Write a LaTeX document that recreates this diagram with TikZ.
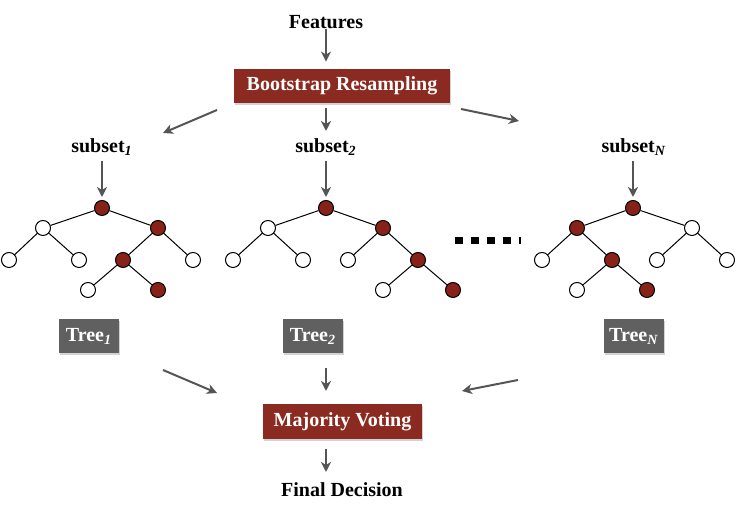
\documentclass[tikz,border=0pt]{standalone}
\usepackage{fontspec}
\setmainfont{Liberation Serif}
\usetikzlibrary{arrows.meta}
\usetikzlibrary{shadows}
\definecolor{boxred}{RGB}{139,42,32}
\definecolor{nodered}{RGB}{136,34,24}
\definecolor{boxgray}{RGB}{96,96,96}
\definecolor{arrgray}{RGB}{85,85,85}
\tikzset{
	lbl/.style={font=\bfseries, inner sep=0pt},
	redbox/.style={fill=boxred, text=white, font=\bfseries, inner sep=0pt,
		drop shadow={opacity=0.35, shadow xshift=0.6pt, shadow yshift=-0.9pt}},
	graybox/.style={fill=boxgray, text=white, font=\bfseries, inner sep=0pt,
		minimum width=30pt, minimum height=17pt,
		drop shadow={opacity=0.35, shadow xshift=0.6pt, shadow yshift=-0.9pt}},
	arr/.style={draw=arrgray, line width=1pt, -{Stealth[length=5pt, width=5pt, inset=1.5pt]}},
	leaf/.style={circle, draw=black, fill=white, line width=0.5pt, minimum size=7.5pt, inner sep=0pt},
	hit/.style={leaf, fill=nodered},
	branch/.style={line width=0.5pt}
}
\begin{document}
\begin{tikzpicture}[x=0.5pt, y=-0.5pt]
	\useasboundingbox (0,0) rectangle (735,512);
	% top part
	\node[lbl] (feat) at (326,22) {Features};
	\node[redbox, minimum width=108pt, minimum height=17pt] (boot) at (342,86) {Bootstrap Resampling};
	\node[lbl] (sub1) at (102,147) {subset\textsubscript{\textit{1}}};
	\node[lbl] (sub2) at (326,147) {subset\textsubscript{\textit{2}}};
	\node[lbl] (subN) at (634,147) {subset\textsubscript{\textit{N}}};
	\coordinate (bl0) at (217,110); \coordinate (bl1) at (163,133);
	\coordinate (bm0) at (326,108); \coordinate (bm1) at (326,131);
	\coordinate (br0) at (461,109); \coordinate (br1) at (519,121);
	\draw[arr] (feat.south) -- (bm0 |- boot.north) [shorten >=3.5pt];
	\draw[arr] (bl0) -- (bl1);
	\draw[arr] (bm0) -- (bm1);
	\draw[arr] (br0) -- (br1);
	% tree 1
	\node[hit]  (p0) at (102,208) {};
	\node[leaf] (p1) at (43,228) {};
	\node[hit]  (p2) at (158,228) {};
	\node[leaf] (p3) at (9,260) {};
	\node[leaf] (p4) at (79,260) {};
	\node[hit]  (p5) at (123,260) {};
	\node[leaf] (p6) at (193,260) {};
	\node[leaf] (p7) at (88,290) {};
	\node[hit]  (p8) at (158,290) {};
	\foreach \u/\v in {p0/p1, p0/p2, p1/p3, p1/p4, p2/p5, p2/p6, p5/p7, p5/p8}
		\draw[branch] (\u) -- (\v);
	% tree 2
	\node[hit]  (q0) at (326,208) {};
	\node[leaf] (q1) at (268,228) {};
	\node[hit]  (q2) at (383,228) {};
	\node[leaf] (q3) at (233,260) {};
	\node[leaf] (q4) at (303,260) {};
	\node[leaf] (q5) at (348,260) {};
	\node[hit]  (q6) at (418,260) {};
	\node[leaf] (q7) at (383,290) {};
	\node[hit]  (q8) at (453,290) {};
	\foreach \u/\v in {q0/q1, q0/q2, q1/q3, q1/q4, q2/q5, q2/q6, q6/q7, q6/q8}
		\draw[branch] (\u) -- (\v);
	% tree N
	\node[hit]  (r0) at (633,208) {};
	\node[hit]  (r1) at (577,228) {};
	\node[leaf] (r2) at (692,228) {};
	\node[leaf] (r3) at (542,260) {};
	\node[hit]  (r4) at (612,260) {};
	\node[leaf] (r5) at (657,260) {};
	\node[leaf] (r6) at (727,260) {};
	\node[leaf] (r7) at (577,290) {};
	\node[hit]  (r8) at (647,290) {};
	\foreach \u/\v in {r0/r1, r0/r2, r1/r3, r1/r4, r2/r5, r2/r6, r4/r7, r4/r8}
		\draw[branch] (\u) -- (\v);
	\draw[line width=3.5pt, dash pattern=on 3.75pt off 4.25pt] (455,241) -- (521,241);
	\foreach \s/\t in {sub1/p0, sub2/q0, subN/r0}
		\draw[arr, shorten <=2.5pt, shorten >=1.5pt] (\s.south -| \t) -- (\t);
	% bottom part
	\node[graybox] (t1) at (89,336) {Tree\textsubscript{\textit{1}}};
	\node[graybox] (t2) at (313,336) {Tree\textsubscript{\textit{2}}};
	\node[graybox] (tN) at (634,336) {Tree\textsubscript{\textit{N}}};
	\node[redbox, minimum width=79.5pt, minimum height=17.5pt] (maj) at (342.5,421.5) {Majority Voting};
	\node[lbl] (fin) at (342,490) {Final Decision};
	\coordinate (ml0) at (163,370); \coordinate (ml1) at (217,393);
	\coordinate (mm0) at (326,368); \coordinate (mm1) at (326,391);
	\coordinate (mr0) at (518,380); \coordinate (mr1) at (462,391);
	\coordinate (fd0) at (326,449); \coordinate (fd1) at (326,472);
	\draw[arr] (ml0) -- (ml1);
	\draw[arr] (mm0) -- (mm1);
	\draw[arr] (mr0) -- (mr1);
	\draw[arr] (fd0) -- (fd1);
\end{tikzpicture}
\end{document}
